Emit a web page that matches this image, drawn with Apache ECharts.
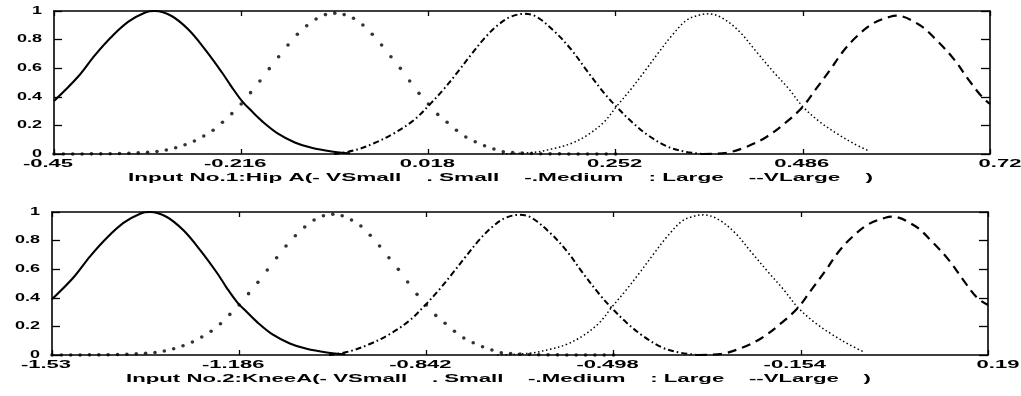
<!DOCTYPE html>
<html><head><meta charset="utf-8">
<script src="https://cdn.jsdelivr.net/npm/echarts@6/dist/echarts.min.js"></script>
<style>html,body{margin:0;padding:0;background:#fff}#c{width:1021px;height:396px}</style>
</head><body><div id="c"></div>
<script>
// ---------- tick labels ----------
const xTicks1 = [-0.45, -0.216, 0.018, 0.252, 0.486, 0.72];
const xTicks2 = [-1.53, -1.186, -0.842, -0.498, -0.154, 0.19];
const yTicks = [0, 0.2, 0.4, 0.6, 0.8, 1];
const xLabel1 = 'Input No.1:Hip A(- VSmall    . Small    -.Medium    : Large    --VLarge    )';
const xLabel2 = 'Input No.2:KneeA(- VSmall    . Small    -.Medium    : Large    --VLarge    )';

// ---------- panel 1 (Hip A) ----------
const vSmall1 = [[-0.45,0.37],[-0.42,0.54],[-0.399,0.69],[-0.378,0.82],[-0.357,0.925],[-0.336,0.99],[-0.324,1.0],[-0.303,0.965],[-0.282,0.87],[-0.261,0.73],[-0.24,0.57],[-0.228,0.47],[-0.215,0.37],[-0.203,0.3],[-0.19,0.23],[-0.17,0.142],[-0.149,0.081],[-0.128,0.043],[-0.103,0.018],[-0.08,0.005]];
const small1 = [[-0.45,0],[-0.4383,0],[-0.4266,0],[-0.4149,0],[-0.4032,0.001],[-0.3915,0.001],[-0.3798,0.002],[-0.3681,0.003],[-0.3564,0.005],[-0.3447,0.008],[-0.333,0.012],[-0.3213,0.018],[-0.3096,0.028],[-0.2979,0.044],[-0.2862,0.065],[-0.2745,0.091],[-0.2628,0.126],[-0.2511,0.166],[-0.2394,0.222],[-0.2277,0.282],[-0.216,0.35],[-0.2043,0.429],[-0.1926,0.51],[-0.1809,0.597],[-0.1692,0.68],[-0.1575,0.762],[-0.1458,0.837],[-0.1341,0.897],[-0.1224,0.944],[-0.1107,0.975],[-0.099,0.985],[-0.0873,0.975],[-0.0756,0.949],[-0.0639,0.902],[-0.0522,0.837],[-0.0405,0.762],[-0.0288,0.68],[-0.0171,0.599],[-0.0054,0.51],[0.0063,0.424],[0.018,0.35],[0.0297,0.277],[0.0414,0.222],[0.0531,0.166],[0.0648,0.119],[0.0765,0.086],[0.0882,0.058],[0.0999,0.035],[0.1116,0.016],[0.1233,0.01],[0.135,0.006],[0.1467,0.004],[0.1584,0.002],[0.1701,0.001],[0.1818,0.001],[0.1935,0],[0.2052,0],[0.2169,0],[0.2286,0],[0.2403,0],[0.252,0]];
const medium1 = [[-0.10,0.0],[-0.075,0.025],[-0.05,0.075],[-0.025,0.145],[0.0,0.238],[0.021,0.354],[0.038,0.459],[0.055,0.576],[0.071,0.692],[0.088,0.809],[0.105,0.902],[0.121,0.96],[0.138,0.98],[0.153,0.96],[0.176,0.855],[0.197,0.727],[0.217,0.576],[0.238,0.424],[0.253,0.331],[0.272,0.226],[0.292,0.133],[0.317,0.051],[0.34,0.015],[0.362,0.0]];
const large1 = [[0.11,0.0],[0.15,0.012],[0.176,0.04],[0.197,0.075],[0.217,0.133],[0.238,0.226],[0.253,0.331],[0.272,0.459],[0.288,0.576],[0.305,0.704],[0.322,0.826],[0.341,0.937],[0.357,0.972],[0.368,0.98],[0.386,0.949],[0.407,0.855],[0.428,0.715],[0.449,0.576],[0.468,0.459],[0.486,0.331],[0.507,0.226],[0.528,0.145],[0.549,0.075],[0.568,0.023]];
const vLarge1 = [[0.361,0.0],[0.39,0.008],[0.416,0.051],[0.441,0.121],[0.466,0.226],[0.486,0.331],[0.503,0.459],[0.52,0.587],[0.536,0.715],[0.553,0.82],[0.574,0.914],[0.595,0.96],[0.603,0.968],[0.632,0.902],[0.653,0.797],[0.674,0.669],[0.695,0.506],[0.71,0.40],[0.72,0.35]];

// ---------- panel 2 (KneeA) ----------
const vSmall2 = [[-1.53,0.39],[-1.491,0.54],[-1.46,0.69],[-1.429,0.82],[-1.398,0.925],[-1.367,0.99],[-1.35,1.0],[-1.319,0.965],[-1.288,0.87],[-1.257,0.73],[-1.226,0.57],[-1.209,0.47],[-1.19,0.37],[-1.172,0.3],[-1.153,0.23],[-1.124,0.142],[-1.093,0.081],[-1.062,0.043],[-1.025,0.018],[-0.991,0.005]];
const small2 = [[-1.53,0],[-1.5128,0],[-1.4956,0],[-1.4784,0],[-1.4612,0.001],[-1.444,0.001],[-1.4268,0.002],[-1.4096,0.003],[-1.3924,0.005],[-1.3752,0.008],[-1.358,0.012],[-1.3408,0.018],[-1.3236,0.028],[-1.3064,0.044],[-1.2892,0.065],[-1.272,0.091],[-1.2548,0.126],[-1.2376,0.166],[-1.2204,0.219],[-1.2032,0.284],[-1.186,0.35],[-1.1688,0.429],[-1.1516,0.508],[-1.1344,0.594],[-1.1172,0.68],[-1.1,0.762],[-1.0828,0.834],[-1.0656,0.895],[-1.0484,0.944],[-1.0312,0.974],[-1.014,0.984],[-0.9968,0.974],[-0.9796,0.944],[-0.9624,0.902],[-0.9452,0.837],[-0.928,0.762],[-0.9108,0.68],[-0.8936,0.599],[-0.8764,0.51],[-0.8592,0.424],[-0.842,0.35],[-0.8248,0.277],[-0.8076,0.222],[-0.7904,0.166],[-0.7732,0.119],[-0.756,0.086],[-0.7388,0.058],[-0.7216,0.035],[-0.7044,0.016],[-0.6872,0.01],[-0.67,0.006],[-0.6528,0.004],[-0.6356,0.002],[-0.6184,0.001],[-0.6012,0.001],[-0.584,0],[-0.5668,0],[-0.5496,0],[-0.5324,0],[-0.5152,0],[-0.498,0]];
const medium2 = [[-1.021,0.0],[-0.984,0.025],[-0.947,0.075],[-0.91,0.145],[-0.874,0.238],[-0.843,0.354],[-0.818,0.459],[-0.793,0.576],[-0.769,0.692],[-0.744,0.809],[-0.719,0.902],[-0.696,0.96],[-0.671,0.98],[-0.649,0.96],[-0.615,0.855],[-0.584,0.727],[-0.555,0.576],[-0.524,0.424],[-0.502,0.331],[-0.474,0.226],[-0.444,0.133],[-0.408,0.051],[-0.374,0.015],[-0.341,0.0]];
const large2 = [[-0.712,0.0],[-0.653,0.012],[-0.615,0.04],[-0.584,0.075],[-0.555,0.133],[-0.524,0.226],[-0.502,0.331],[-0.474,0.459],[-0.45,0.576],[-0.425,0.704],[-0.4,0.826],[-0.372,0.937],[-0.349,0.972],[-0.333,0.98],[-0.306,0.949],[-0.275,0.855],[-0.244,0.715],[-0.213,0.576],[-0.186,0.459],[-0.159,0.331],[-0.128,0.226],[-0.097,0.145],[-0.066,0.075],[-0.039,0.023]];
const vLarge2 = [[-0.343,0.0],[-0.3,0.008],[-0.262,0.051],[-0.225,0.121],[-0.189,0.226],[-0.159,0.331],[-0.134,0.459],[-0.109,0.587],[-0.086,0.715],[-0.061,0.82],[-0.03,0.914],[0.001,0.96],[0.013,0.968],[0.056,0.902],[0.086,0.797],[0.117,0.669],[0.148,0.506],[0.17,0.40],[0.19,0.35]];

// ---------- chart ----------
const chart = echarts.init(document.getElementById('c'), null, {renderer: 'canvas'});
const BLACK = '#000';
const FONT = 'bold 10px "Liberation Sans", Arial, sans-serif';

const panels = [
  {xMin: -0.45, xMax: 0.72, ticks: xTicks1, name: xLabel1, series: [vSmall1, small1, medium1, large1, vLarge1]},
  {xMin: -1.53, xMax: 0.19, ticks: xTicks2, name: xLabel2, series: [vSmall2, small2, medium2, large2, vLarge2]}
];
const grids = [
  {left: 54, right: 31, top: 11, height: 143},
  {left: 52, right: 33, top: 212, height: 143}
];

const xAxes = [], yAxes = [], series = [];
panels.forEach((p, i) => {
  ['bottom', 'top'].forEach(pos => {
    xAxes.push({
      gridIndex: i, type: 'value', position: pos, min: p.xMin, max: p.xMax,
      axisLine: {show: true, onZero: false, lineStyle: {color: BLACK, width: 1.6}},
      axisTick: {show: true, inside: true, length: 5, customValues: p.ticks, lineStyle: {color: BLACK, width: 1.3}},
      axisLabel: {show: false}, splitLine: {show: false}
    });
  });
  [['left', 8], ['right', 9]].forEach(([pos, len]) => {
    yAxes.push({
      gridIndex: i, type: 'value', position: pos, min: 0, max: 1, interval: 0.2,
      axisLine: {show: true, onZero: false, lineStyle: {color: BLACK, width: 1.6}},
      axisTick: {show: true, inside: true, length: len, lineStyle: {color: BLACK, width: 1.3}},
      axisLabel: {show: false}, splitLine: {show: false}
    });
  });
  const ax = i * 2;
  const base = {xAxisIndex: ax, yAxisIndex: ax, animation: false, silent: true, clip: true};
  series.push(Object.assign({}, base, {type: 'line', name: 'VSmall', data: p.series[0], showSymbol: false, symbol: 'none', smooth: 0.35,
    lineStyle: {color: BLACK, width: 2.1, type: 'solid'}}));
  series.push(Object.assign({}, base, {type: 'scatter', name: 'Small', data: p.series[1], symbol: 'circle', symbolSize: 3.6,
    itemStyle: {color: BLACK}}));
  series.push(Object.assign({}, base, {type: 'line', name: 'Medium', data: p.series[2], showSymbol: false, symbol: 'none', smooth: 0.35,
    lineStyle: {color: BLACK, width: 2, type: [6, 3, 1.6, 3]}}));
  series.push(Object.assign({}, base, {type: 'line', name: 'Large', data: p.series[3], showSymbol: false, symbol: 'none', smooth: 0.35,
    lineStyle: {color: BLACK, width: 1.5, type: [1.5, 2.6]}}));
  series.push(Object.assign({}, base, {type: 'line', name: 'VLarge', data: p.series[4], showSymbol: false, symbol: 'none', smooth: 0.35,
    lineStyle: {color: BLACK, width: 2.2, type: [9, 6]}}));
});

chart.setOption({
  backgroundColor: '#fff',
  animation: false,
  grid: grids,
  xAxis: xAxes,
  yAxis: yAxes,
  series: series
});

// ---------- text (stretched like the scanned figure) ----------
const mctx = document.createElement('canvas').getContext('2d');
mctx.font = FONT;
function txt(text, x, y, align, sx) {
  return {type: 'text', x: x, y: y, scaleX: sx, scaleY: 1, silent: true, z: 10,
    style: {text: text, font: FONT, fill: BLACK, align: align, verticalAlign: 'middle',
            textAlign: align, textVerticalAlign: 'middle'}};
}
const els = [];
panels.forEach((p, i) => {
  const f = {xAxisIndex: i * 2, yAxisIndex: i * 2};
  p.ticks.forEach((v, k) => {
    const pt = chart.convertToPixel(f, [v, 0]);
    let dx = v < 0 ? -6 : -1;
    if (k === p.ticks.length - 1) dx = 10;
    els.push(txt(String(v), pt[0] + dx, pt[1] + 10, 'center', 2.2));
  });
  yTicks.forEach(v => {
    const pt = chart.convertToPixel(f, [p.xMin, v]);
    els.push(txt(String(v), pt[0] - 12, pt[1], 'right', 1.8));
  });
  const o = chart.convertToPixel(f, [p.xMin, 0]);
  const w = mctx.measureText(p.name).width;
  els.push(txt(p.name, o[0] + 74, o[1] + 24, 'left', 745 / w));
});
chart.setOption({graphic: {elements: els}});
</script>
</body></html>
